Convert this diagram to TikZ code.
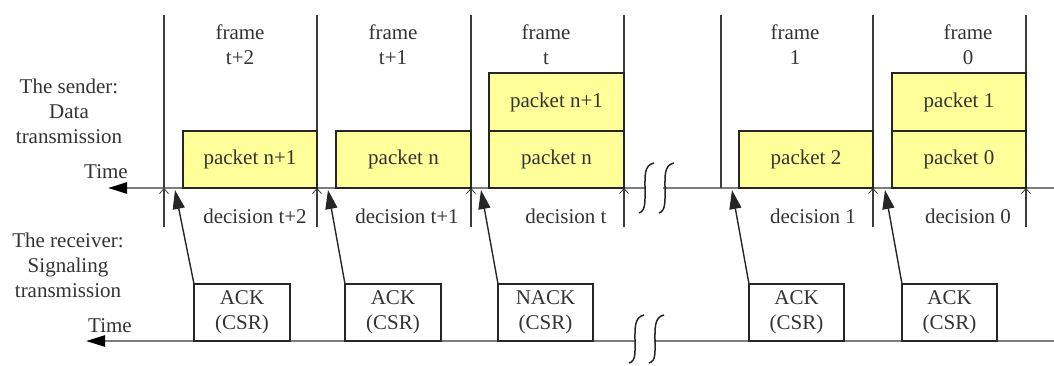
\documentclass[tikz,border=0pt]{standalone}
\usepackage{fontspec}
\setmainfont{Liberation Serif}
\usetikzlibrary{arrows.meta}
\definecolor{pktfill}{RGB}{255,255,153}
\definecolor{axisgray}{RGB}{125,125,125}
\definecolor{framegray}{RGB}{60,60,60}
\begin{document}
\begin{tikzpicture}[x=1pt,y=-1pt,
  txt/.style={font=\fontsize{21}{25}\selectfont, inner sep=0pt, align=center, text=black!80},
  pkt/.style={txt, draw=black!85, line width=1.5pt, fill=pktfill, minimum width=134pt, minimum height=57pt, outer sep=0pt},
  sig/.style={txt, draw=black!85, line width=1.5pt, fill=white, minimum width=96pt, minimum height=57pt, outer sep=0pt},
  axisline/.style={draw=axisgray, line width=2.4pt, -{Triangle[length=19pt,width=11pt,color=black]}},
  frameline/.style={draw=framegray, line width=1.7pt},
  decline/.style={draw=framegray, line width=1.7pt, -{Straight Barb[length=5pt,width=9pt,line width=0.8pt]}},
  fbk/.style={draw=black!85, line width=1.4pt, -{Triangle[length=19pt,width=12pt]}},
  brk/.style={draw=black!85, line width=1.5pt}
]
\useasboundingbox (0,0) rectangle (1054,365);

% time axes of sender and receiver
\coordinate (sR) at (1054,188);
\coordinate (sL) at (108,188);
\coordinate (rR) at (1054,341);
\coordinate (rL) at (86,341);
\draw[axisline] (sR) -- (sL);
\draw[axisline] (rR) -- (rL);

% frame boundaries
\foreach \n/\x in {a/164,b/317,c/471,d/624,e/721,f/873,g/1026}{
  \coordinate (top\n) at (\x,15);
  \coordinate (ax\n) at (\x,188);
  \coordinate (bot\n) at (\x,227);
}
\foreach \n in {a,b,c,d,e,f,g}{
  \draw[frameline] (top\n) -- (ax\n);
}
\foreach \n in {a,b,c,d,f,g}{
  \draw[decline] (bot\n) -- (ax\n);
}

% data packets
\node[pkt] (p1)  at (250,159.5) {packet n+1};
\node[pkt, minimum width=135pt] (p2) at (403.5,159.5) {packet n};
\node[pkt, minimum width=135pt] (p3b) at (556.5,159.5) {packet n};
\node[pkt, minimum width=135pt, minimum height=58pt] (p3a) at (556.5,102) {packet n+1};
\node[pkt] (p4)  at (806,159.5) {packet 2};
\node[pkt] (p5b) at (959,159.5) {packet 0};
\node[pkt, minimum height=58pt] (p5a) at (959,102) {packet 1};

% frame labels
\node[txt] (f1) at (240,45) {frame\\t+2};
\node[txt] (f2) at (393,45) {frame\\t+1};
\node[txt] (f3) at (546,45) {frame\\t};
\node[txt] (f4) at (795,45) {frame\\1};
\node[txt] (f5) at (968,45) {frame\\0};

% decision labels
\node[txt, anchor=base] (d1) at (255,223) {decision t+2};
\node[txt, anchor=base] (d2) at (407,223) {decision t+1};
\node[txt, anchor=base] (d3) at (566,223) {decision t};
\node[txt, anchor=base] (d4) at (813,223) {decision 1};
\node[txt, anchor=base] (d5) at (968,223) {decision 0};

% side labels
\node[txt] (snd) at (69,111) {The sender:\\Data\\transmission};
\node[txt, anchor=base] (st) at (106,178) {Time};
\node[txt] (rcv) at (68,265) {The receiver:\\Signaling\\transmission};
\node[txt, anchor=base] (rt) at (110,332) {Time};

% feedback messages
\node[sig] (s1) at (242,312.5) {ACK\\(CSR)};
\node[sig] (s2) at (393,312.5) {ACK\\(CSR)};
\node[sig, minimum width=95pt] (s3) at (545.5,312.5) {NACK\\(CSR)};
\node[sig, minimum width=95pt] (s4) at (796.5,312.5) {ACK\\(CSR)};
\node[sig, minimum width=95pt] (s5) at (949.5,312.5) {ACK\\(CSR)};

\coordinate (t1) at (175,190);
\coordinate (t2) at (328,190);
\coordinate (t3) at (481,190);
\coordinate (t4) at (732,190);
\coordinate (t5) at (885,190);
\foreach \i in {1,...,5}{
  \draw[fbk] (s\i.north west) -- (t\i);
}

% axis breaks
\fill[white] (646,180) rectangle (663,196);
\draw[brk] (654,163) .. controls (644,165) and (645,176) .. (645,188)
           .. controls (645,200) and (646,211) .. (639,213);
\draw[brk] (674,163) .. controls (664,165) and (665,176) .. (665,188)
           .. controls (665,200) and (666,211) .. (659,213);
\fill[white] (636,333) rectangle (654,349);
\draw[brk] (644,315) .. controls (634,317) and (635,329) .. (635,341)
           .. controls (635,353) and (636,361) .. (629,363);
\draw[brk] (664,315) .. controls (654,317) and (655,329) .. (655,341)
           .. controls (655,353) and (656,361) .. (649,363);
\end{tikzpicture}
\end{document}
